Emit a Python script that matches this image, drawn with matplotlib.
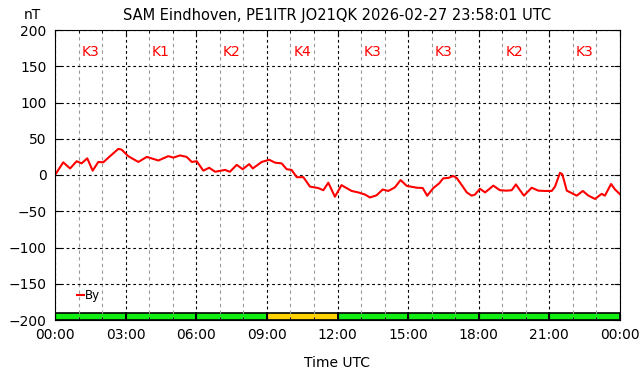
import matplotlib
matplotlib.use("Agg")
import matplotlib.pyplot as plt
from matplotlib.ticker import MultipleLocator

# By component, hours UTC vs nT
hours = [0, 0.35, 0.64, 0.92, 1.13, 1.37, 1.60, 1.84, 2.05, 2.34, 2.69, 2.83,
         3.11, 3.54, 3.90, 4.39, 4.81, 5.03, 5.31, 5.59, 5.81, 6.02, 6.30, 6.55,
         6.80, 7.22, 7.43, 7.72, 7.97, 8.25, 8.40, 8.78, 9.10, 9.35, 9.63, 9.84,
         10.05, 10.27, 10.55, 10.83, 11.18, 11.40, 11.61, 11.89, 12.17, 12.60,
         12.88, 13.17, 13.38, 13.66, 13.92, 14.16, 14.44, 14.68, 14.94, 15.36,
         15.62, 15.81, 16.07, 16.32, 16.49, 16.71, 16.92, 17.06, 17.28, 17.49,
         17.70, 17.84, 18.05, 18.27, 18.62, 18.90, 19.19, 19.40, 19.58, 19.75,
         19.92, 20.25, 20.53, 20.81, 21.10, 21.24, 21.45, 21.55, 21.74, 21.95,
         22.16, 22.42, 22.66, 22.94, 23.22, 23.36, 23.62, 23.79, 24.0]
by_nt = [0, 17.5, 9, 19, 16, 23, 6, 18, 17.5, 26, 36, 35,
         26, 18, 25, 20, 26, 24, 27, 25, 18, 19, 6, 10,
         4.5, 7, 4.5, 14, 8, 15, 9, 18, 21, 17, 16, 8,
         7, -3, -3, -16, -18, -21, -10.6, -30, -14, -22,
         -24, -27, -31, -28, -20, -22, -17, -7, -15, -17.5,
         -18, -28.6, -18, -11.5, -4.6, -4, -1.4, -4, -14, -24,
         -28.5, -27, -19, -24, -14.7, -21, -21.6, -21, -13, -21,
         -28.5, -17.5, -21.6, -22, -22, -16, 3, 1, -21.6, -25,
         -28.5, -22, -28.5, -33, -26, -28.5, -12.4, -20, -26.6]

# K index per 3-hour block
k_starts = [0, 3, 6, 9, 12, 15, 18, 21]
k_values = [3, 1, 2, 4, 3, 3, 2, 3]
k_colors = ["#11ee11" if k < 4 else "#ffd200" for k in k_values]

fig = plt.figure(figsize=(6.42, 3.76), dpi=100)
ax = fig.add_axes([55 / 642, 56 / 376, 565 / 642, 290 / 376])

ax.bar(k_starts, 10, width=3, bottom=-200, align="edge",
       color=k_colors, edgecolor="black", linewidth=1.2, zorder=1)
for s, k in zip(k_starts, k_values):
    ax.text(s + 1.5, 170, "K%d" % k, color="red", ha="center", va="center",
            fontsize=10)

ax.plot(hours, by_nt, color="red", linewidth=1.5, label="By", zorder=4)

ax.set_xlim(0, 24)
ax.set_ylim(-200, 200)
ax.xaxis.set_major_locator(MultipleLocator(3))
ax.xaxis.set_minor_locator(MultipleLocator(1))
ax.yaxis.set_major_locator(MultipleLocator(50))
ax.set_xticks(range(0, 25, 3))
ax.set_xticklabels(["%02d:00" % (h % 24) for h in range(0, 25, 3)])
ax.tick_params(which="both", direction="in", top=True, right=True,
               labelsize=10, pad=6)
ax.tick_params(which="major", length=4)
ax.tick_params(which="minor", length=2)

ax.grid(which="major", axis="both", color="black", linestyle=(0, (2.5, 2.5)),
        linewidth=0.8, zorder=2)
ax.grid(which="minor", axis="x", color="#999999", linestyle=(0, (3, 3)),
        linewidth=0.8)
ax.set_axisbelow(False)
for sp in ax.spines.values():
    sp.set_zorder(5)

ax.set_xlabel("Time UTC", fontsize=10, labelpad=10)
ax.set_title("SAM Eindhoven, PE1ITR JO21QK 2026-02-27 23:58:01 UTC",
             fontsize=10.5, pad=7)
fig.text(32 / 642, 1 - 15 / 376, "nT", ha="center", va="center", fontsize=10)

leg = ax.legend(loc="center left", bbox_to_anchor=(0.02, 0.083), frameon=False,
                fontsize=8.5, handlelength=0.6, handletextpad=0.1)

fig.savefig("out.png", dpi=100)
